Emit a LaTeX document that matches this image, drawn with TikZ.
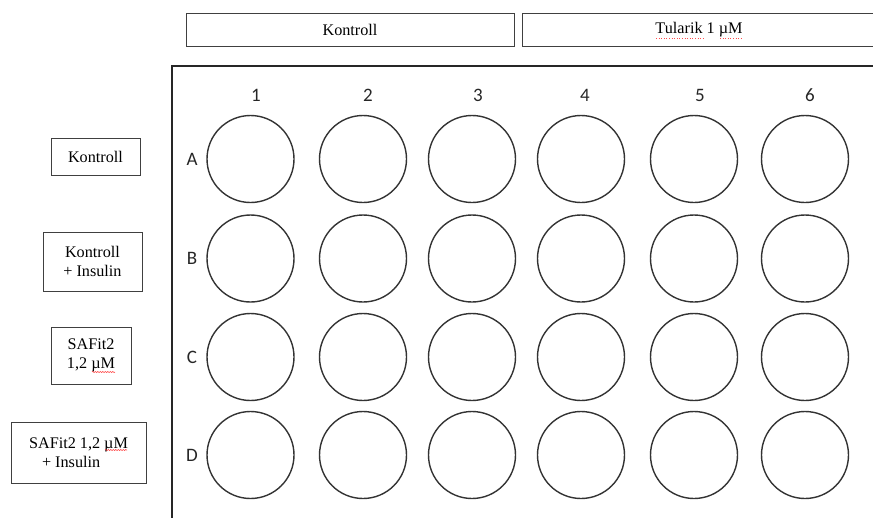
\documentclass[tikz,border=0pt]{standalone}
\usepackage{fontspec}
\setmainfont{Liberation Serif}
\newfontfamily\labfont{Carlito}
\usetikzlibrary{decorations.pathmorphing}
\begin{document}
\begin{tikzpicture}[x=1pt,y=-1pt,
  box/.style={draw=black!75, line width=1pt, inner sep=0pt, align=center, font=\fontsize{16.2}{18.5}\selectfont},
  well/.style={draw=black!80, line width=1.4pt, circle, minimum size=87pt, inner sep=0pt},
  lab/.style={font=\labfont\fontsize{19}{20}\selectfont, text=black!85, inner sep=0pt},
  plate/.style={draw=black!85, line width=1.9pt},
  spell/.style={draw=red!80, line width=0.5pt, decorate, decoration={snake, amplitude=0.6pt, segment length=2.5pt}},
  spelldot/.style={draw=red!70, line width=0.6pt, dotted}]
\useasboundingbox (0,0) rectangle (873,517);

% top condition boxes
\node[box, minimum width=328pt, minimum height=33pt] (topK) at (350,29.5) {Kontroll};
\node[box, minimum width=354pt, minimum height=33pt] (topT) at (699,29.5) {Tularik 1 µM};

% left condition boxes
\node[box, minimum width=89pt, minimum height=37pt] (lA) at (95.5,156.5) {Kontroll};
\node[box, minimum width=99pt, minimum height=59pt] (lB) at (92.5,261.5) {Kontroll\\+ Insulin};
\node[box, minimum width=80pt, minimum height=57pt] (lC) at (91,355.5) {SAFit2\\1,2 µM};
\node[box, minimum width=135pt, minimum height=61pt, align=left] (lD) at (78.5,452.5) {SAFit2 1,2 µM\\\hspace*{13pt}+ Insulin};

% plate outline
\coordinate (pBL) at (172,520);
\coordinate (pTL) at (172,66);
\coordinate (pTR) at (876,66);
\draw[plate] (pBL) -- (pTL) -- (pTR);

% column labels
\foreach \c/\x in {1/256,2/368,3/478,4/585,5/700,6/810}
  \node[lab] (col\c) at (\x,95) {\c};

% row labels and wells
\foreach \r/\y in {A/159,B/258.5,C/357,D/455}{
  \node[lab] (row\r) at (192,\y) {\r};
  \foreach \c/\x in {1/250.5,2/363,3/472,4/581,5/694,6/805}
    \node[well] (\r\c) at (\x,\y) {};
}

% spell-check underlines
\coordinate (s1a) at (656,38);
\coordinate (s1b) at (703,38);
\coordinate (s2a) at (720,38);
\coordinate (s2b) at (742,38);
\draw[spelldot] (s1a) -- (s1b);
\draw[spelldot] (s2a) -- (s2b);
\coordinate (s3a) at (92,372);
\coordinate (s3b) at (115,372);
\draw[spell] (s3a) -- (s3b);
\coordinate (s4a) at (105,450);
\coordinate (s4b) at (127,450);
\draw[spell] (s4a) -- (s4b);
\end{tikzpicture}
\end{document}
